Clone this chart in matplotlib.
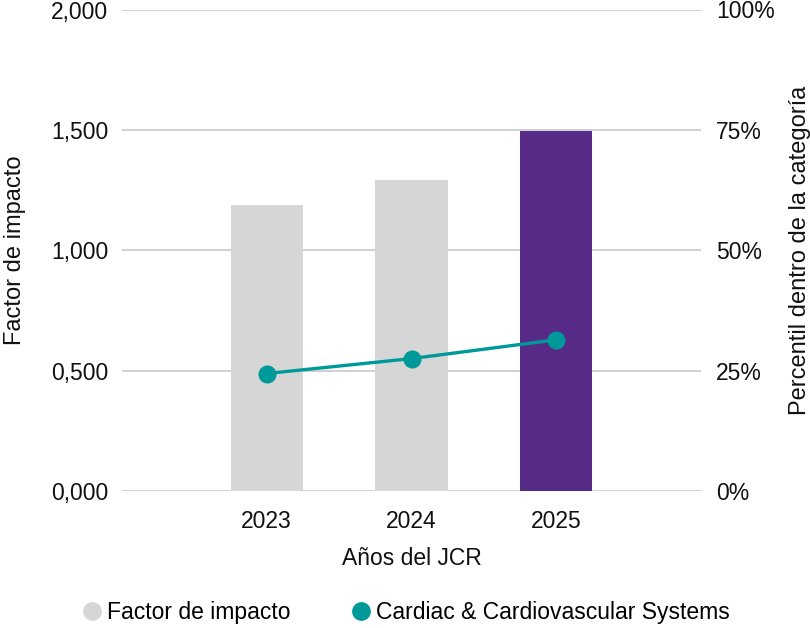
import matplotlib
matplotlib.use("Agg")
import matplotlib.pyplot as plt
from matplotlib.ticker import FuncFormatter, FixedLocator
from matplotlib.lines import Line2D

years = ["2023", "2024", "2025"]
impact = [1.190, 1.293, 1.495]
percentile = [24.4, 27.5, 31.4]
bar_colors = ["#d6d6d6", "#d6d6d6", "#582a87"]

GRID = "#c8c8c8"
TEAL = "#00999a"
INK = "#111111"

plt.rcParams["font.family"] = ["Liberation Sans", "DejaVu Sans"]

fig = plt.figure(figsize=(8.1, 6.28), dpi=100)
ax = fig.add_axes([122 / 810, 1 - 491 / 628, (701 - 122) / 810, (491 - 9.5) / 628])
ax2 = ax.twinx()

x = list(range(len(years)))
ax.bar(x, impact, width=0.5, color=bar_colors, zorder=2)
ax.set_xlim(-1, 3)
ax.set_ylim(0, 2.0)
ax.yaxis.set_major_locator(FixedLocator([0, 0.5, 1.0, 1.5, 2.0]))
ax.yaxis.set_major_formatter(FuncFormatter(lambda v, p: f"{v:.3f}".replace(".", ",")))
ax.grid(axis="y", color=GRID, lw=1.2, zorder=0)
ax.set_xticks(x)
ax.set_xticklabels(years)

ax2.plot(x, percentile, color=TEAL, lw=2.4, marker="o", ms=12, zorder=3)
ax2.set_ylim(0, 100)
ax2.yaxis.set_major_locator(FixedLocator([0, 25, 50, 75, 100]))
ax2.yaxis.set_major_formatter(FuncFormatter(lambda v, p: f"{v:.0f}%"))

for a in (ax, ax2):
    for s in a.spines.values():
        s.set_visible(False)
    a.tick_params(length=0, labelsize=16.5, colors=INK)
ax.tick_params(axis="y", pad=10)
ax.tick_params(axis="x", pad=14)
ax2.tick_params(axis="y", pad=11)

ax.set_xlabel("Años del JCR", fontsize=16.5, color=INK, labelpad=10)
ax.set_ylabel("Factor de impacto", fontsize=17, color=INK, labelpad=18)
ax2.set_ylabel("Percentil dentro de la categoría", fontsize=17, color=INK, labelpad=10)

handles = [
    Line2D([], [], ls="none", marker="o", ms=12.5, color="#d6d6d6"),
    Line2D([], [], ls="none", marker="o", ms=12.5, color=TEAL),
]
fig.legend(handles, ["Factor de impacto", "Cardiac & Cardiovascular Systems"],
           loc="center", bbox_to_anchor=(0.5, 1 - 613 / 628), ncol=2, frameon=False,
           fontsize=16.5, handletextpad=0.15, columnspacing=2.6, handlelength=1.0)

fig.savefig("out.png", dpi=100)
